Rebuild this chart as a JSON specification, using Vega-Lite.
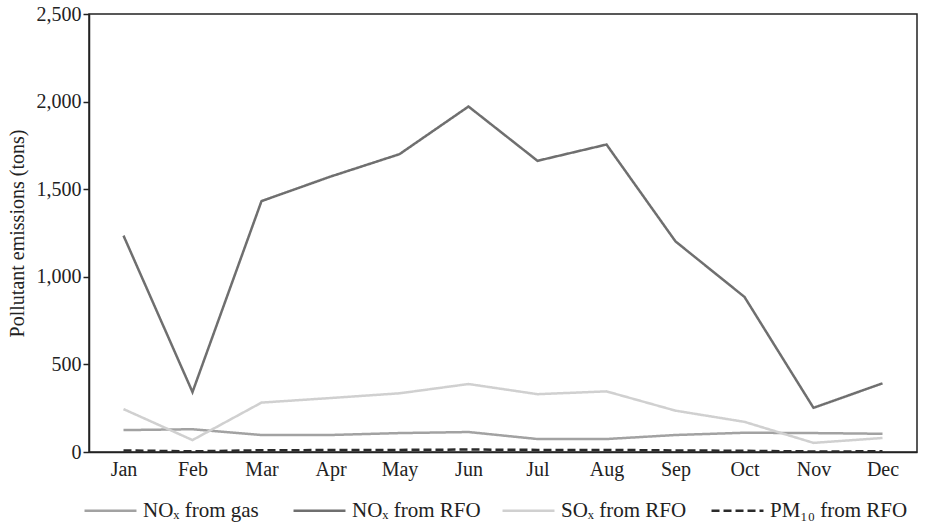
{
  "$schema": "https://vega.github.io/schema/vega-lite/v6.json",
  "width": 828,
  "height": 438,
  "autosize": "none",
  "padding": {"left": 89, "top": 14, "right": 15, "bottom": 73},
  "background": "white",
  "config": {
    "font": "Liberation Serif",
    "view": {"stroke": "#222222", "strokeWidth": 1.5},
    "axis": {"labelFont": "Liberation Serif", "titleFont": "Liberation Serif", "labelColor": "#222", "titleColor": "#222", "domainColor": "#222", "tickColor": "#222", "grid": false},
    "legend": {"labelFont": "Liberation Serif"}
  },
  "data": {
    "values": [
      {"month": "Jan", "series": "NOₓ from gas", "value": 125},
      {"month": "Feb", "series": "NOₓ from gas", "value": 130},
      {"month": "Mar", "series": "NOₓ from gas", "value": 97},
      {"month": "Apr", "series": "NOₓ from gas", "value": 97},
      {"month": "May", "series": "NOₓ from gas", "value": 108},
      {"month": "Jun", "series": "NOₓ from gas", "value": 114},
      {"month": "Jul", "series": "NOₓ from gas", "value": 74},
      {"month": "Aug", "series": "NOₓ from gas", "value": 74},
      {"month": "Sep", "series": "NOₓ from gas", "value": 97},
      {"month": "Oct", "series": "NOₓ from gas", "value": 110},
      {"month": "Nov", "series": "NOₓ from gas", "value": 108},
      {"month": "Dec", "series": "NOₓ from gas", "value": 104},
      {"month": "Jan", "series": "NOₓ from RFO", "value": 1235},
      {"month": "Feb", "series": "NOₓ from RFO", "value": 342},
      {"month": "Mar", "series": "NOₓ from RFO", "value": 1432},
      {"month": "Apr", "series": "NOₓ from RFO", "value": 1572},
      {"month": "May", "series": "NOₓ from RFO", "value": 1700},
      {"month": "Jun", "series": "NOₓ from RFO", "value": 1972},
      {"month": "Jul", "series": "NOₓ from RFO", "value": 1662},
      {"month": "Aug", "series": "NOₓ from RFO", "value": 1755},
      {"month": "Sep", "series": "NOₓ from RFO", "value": 1202},
      {"month": "Oct", "series": "NOₓ from RFO", "value": 885},
      {"month": "Nov", "series": "NOₓ from RFO", "value": 252},
      {"month": "Dec", "series": "NOₓ from RFO", "value": 392},
      {"month": "Jan", "series": "SOₓ from RFO", "value": 245},
      {"month": "Feb", "series": "SOₓ from RFO", "value": 68},
      {"month": "Mar", "series": "SOₓ from RFO", "value": 282},
      {"month": "Apr", "series": "SOₓ from RFO", "value": 308},
      {"month": "May", "series": "SOₓ from RFO", "value": 335},
      {"month": "Jun", "series": "SOₓ from RFO", "value": 388},
      {"month": "Jul", "series": "SOₓ from RFO", "value": 330},
      {"month": "Aug", "series": "SOₓ from RFO", "value": 346},
      {"month": "Sep", "series": "SOₓ from RFO", "value": 236},
      {"month": "Oct", "series": "SOₓ from RFO", "value": 172},
      {"month": "Nov", "series": "SOₓ from RFO", "value": 52},
      {"month": "Dec", "series": "SOₓ from RFO", "value": 80},
      {"month": "Jan", "series": "PM₁₀ from RFO", "value": 9},
      {"month": "Feb", "series": "PM₁₀ from RFO", "value": 4},
      {"month": "Mar", "series": "PM₁₀ from RFO", "value": 10},
      {"month": "Apr", "series": "PM₁₀ from RFO", "value": 11},
      {"month": "May", "series": "PM₁₀ from RFO", "value": 12},
      {"month": "Jun", "series": "PM₁₀ from RFO", "value": 14},
      {"month": "Jul", "series": "PM₁₀ from RFO", "value": 12},
      {"month": "Aug", "series": "PM₁₀ from RFO", "value": 12},
      {"month": "Sep", "series": "PM₁₀ from RFO", "value": 9},
      {"month": "Oct", "series": "PM₁₀ from RFO", "value": 7},
      {"month": "Nov", "series": "PM₁₀ from RFO", "value": 3},
      {"month": "Dec", "series": "PM₁₀ from RFO", "value": 4}
    ]
  },
  "mark": {"type": "line", "strokeJoin": "miter"},
  "encoding": {
    "x": {
      "field": "month", "type": "ordinal",
      "sort": ["Jan","Feb","Mar","Apr","May","Jun","Jul","Aug","Sep","Oct","Nov","Dec"],
      "scale": {"type": "point", "padding": 0.5},
      "axis": {"title": null, "labelAngle": 0, "ticks": false, "labelFontSize": 20, "labelPadding": 7, "domainWidth": 1.5}
    },
    "y": {
      "field": "value", "type": "quantitative",
      "scale": {"domain": [0, 2500], "nice": false},
      "axis": {"title": "Pollutant emissions  (tons)", "titleFontSize": 20, "titleFontWeight": "normal", "titlePadding": 9, "values": [0, 500, 1000, 1500, 2000, 2500], "format": ",d", "labelFontSize": 20, "tickSize": 6, "labelPadding": 2, "domainWidth": 1.5, "tickWidth": 1.5}
    },
    "color": {
      "field": "series", "type": "nominal",
      "scale": {"domain": ["NOₓ from gas", "NOₓ from RFO", "SOₓ from RFO", "PM₁₀ from RFO"], "range": ["#a2a2a2", "#6f6f6f", "#d0d0d0", "#2b2b2b"]},
      "legend": {"title": null, "orient": "none", "legendX": -6, "legendY": 469, "direction": "horizontal", "columns": 4, "gridAlign": "all", "columnPadding": 7, "labelFontSize": 21, "labelColor": "#222", "symbolSize": 2700, "symbolStrokeWidth": 2.5, "labelOffset": 5, "symbolType": "stroke"}
    },
    "strokeDash": {
      "field": "series", "type": "nominal",
      "scale": {"domain": ["NOₓ from gas", "NOₓ from RFO", "SOₓ from RFO", "PM₁₀ from RFO"], "range": [[1, 0], [1, 0], [1, 0], [8, 4]]},
      "legend": {"title": null, "orient": "none", "legendX": -6, "legendY": 469, "direction": "horizontal", "columns": 4, "gridAlign": "all", "columnPadding": 7, "labelFontSize": 21, "labelColor": "#222", "symbolSize": 2700, "symbolStrokeWidth": 2.5, "labelOffset": 5, "symbolType": "stroke"}
    },
    "strokeWidth": {"value": 2.5}
  }
}
